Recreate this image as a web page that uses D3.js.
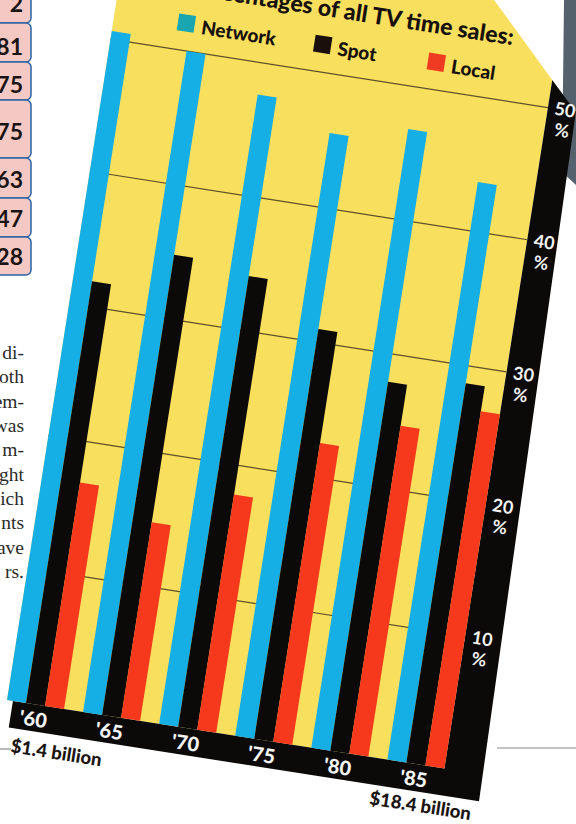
<!DOCTYPE html>
<html>
<head>
<meta charset="utf-8">
<script src="https://cdn.jsdelivr.net/npm/d3@7"></script>
<style>
  html, body { margin: 0; padding: 0; background: #fff; }
  svg { display: block; }
</style>
</head>
<body>
<div id="chart"></div>
<script>
// data (shares of all TV time sales, %)
const years = ["'60", "'65", "'70", "'75", "'80", "'85"];
const series = ["Network", "Spot", "Local"];
const network = [50.6, 50.0, 47.6, 45.6, 46.8, 43.7];
const spot = [31.9, 34.8, 34.1, 31.0, 27.9, 28.7];
const local = [16.9, 14.8, 17.8, 22.6, 24.8, 26.8];
const yTicks = [10, 20, 30, 40, 50];
const startLabel = "$1.4 billion";
const endLabel = "$18.4 billion";
const title = "Percentages of all TV time sales:";

// bits of the page around the chart
const tableValues = ["2", "81", "75", "75", "63", "47", "28"];
const textFragments = ["di-", "oth", "em-", "was", "m-", "ght", "ich", "nts", "ave", "rs."];

const width = 576, height = 824;
const colors = { Network: "#15aee5", Spot: "#0c0a09", Local: "#f6381d" };
const legendColors = { Network: "#19a6b0", Spot: "#1a0f0b", Local: "#ee3b22" };
const font = "Lato, 'DejaVu Sans', sans-serif";

const svg = d3.select("#chart").append("svg")
  .attr("width", width)
  .attr("height", height);

// table cells on the left edge
const rowEdges = [-10, 23, 62, 100, 158, 198, 237, 275];
const baselines = [12, 55, 93, 140, 188, 227, 265];
svg.append("g").selectAll("rect")
  .data(tableValues)
  .join("rect")
  .attr("x", -12)
  .attr("y", (d, i) => rowEdges[i])
  .attr("width", 43)
  .attr("height", (d, i) => rowEdges[i + 1] - rowEdges[i])
  .attr("rx", 5)
  .attr("fill", "#f4c9c3")
  .attr("stroke", "#2d63a3")
  .attr("stroke-width", 1.5);
svg.append("g").selectAll("text")
  .data(tableValues)
  .join("text")
  .attr("x", 23)
  .attr("y", (d, i) => baselines[i])
  .attr("text-anchor", "end")
  .style("font-family", font)
  .style("font-weight", 700)
  .style("font-size", "23px")
  .attr("fill", "#1a1414")
  .text(d => d);

// cut-off paragraph
svg.append("g").selectAll("text")
  .data(textFragments)
  .join("text")
  .attr("x", 24)
  .attr("y", (d, i) => 359 + i * 24.35)
  .attr("text-anchor", "end")
  .style("font-family", "'Liberation Serif', 'DejaVu Serif', serif")
  .style("font-size", "19.5px")
  .attr("fill", "#2a2a2a")
  .text(d => d);

// page rules
svg.append("line").attr("x1", 0).attr("x2", 11).attr("y1", 749).attr("y2", 749)
  .attr("stroke", "#8a8a8a").attr("stroke-width", 1.2);
svg.append("line").attr("x1", 497).attr("x2", 576).attr("y1", 748).attr("y2", 748)
  .attr("stroke", "#8a8a8a").attr("stroke-width", 1.2);

// dark strip at top right
svg.append("polygon")
  .attr("points", "564,0 576,0 576,185 562,172")
  .attr("fill", "#56616e");

// the chart itself is printed tilted
const g = svg.append("g")
  .attr("transform", "translate(7,700) rotate(8.9)");

const x0 = d3.scaleBand().domain(years).range([0, 462]);
const x1 = d3.scaleBand().domain(series).range([0, x0.bandwidth() * 0.75]);
const y = d3.scaleLinear().domain([0, 50]).range([0, -669]);

const xRight = x0(years[years.length - 1]) + x1.range()[1];

// yellow plane
g.append("polygon")
  .attr("points", [[0, 0], [xRight, 0], [xRight, -697], [300, -840], [0, -840]].join(" "))
  .attr("fill", "#f9df5e");

// black frame right and bottom
g.append("polygon")
  .attr("points", [[6, 0], [xRight, 0], [xRight, -697], [471, -669], [482, 27], [6, 27]].join(" "))
  .attr("fill", "#0b0a09");

// gridlines
g.append("g").selectAll("line")
  .data(yTicks)
  .join("line")
  .attr("x1", 0)
  .attr("x2", xRight)
  .attr("y1", d => y(d))
  .attr("y2", d => y(d))
  .attr("stroke", "#5e5026")
  .attr("stroke-width", 1.2);

// bars
const rows = years.map((yr, i) => ({ yr, vals: { Network: network[i], Spot: spot[i], Local: local[i] } }));
g.append("g").selectAll("g")
  .data(rows)
  .join("g")
  .attr("transform", d => `translate(${x0(d.yr)},0)`)
  .selectAll("rect")
  .data(d => series.map(s => ({ s, v: d.vals[s] })))
  .join("rect")
  .attr("x", d => x1(d.s))
  .attr("y", d => y(d.v))
  .attr("width", x1.bandwidth())
  .attr("height", d => -y(d.v))
  .attr("fill", d => colors[d.s]);

// percent labels in the black band
const tickG = g.append("g").selectAll("g")
  .data(yTicks)
  .join("g")
  .attr("transform", d => `translate(460,${y(d)})`);
tickG.append("text")
  .attr("y", 6)
  .attr("text-anchor", "middle")
  .style("font-family", font)
  .style("font-weight", 700)
  .style("font-size", "18px")
  .attr("fill", "#f2f2f2")
  .text(d => d);
tickG.append("text")
  .attr("y", 27)
  .attr("text-anchor", "middle")
  .style("font-family", font)
  .style("font-weight", 700)
  .style("font-size", "18px")
  .attr("fill", "#f2f2f2")
  .text("%");

// year labels
g.append("g").selectAll("text")
  .data(years)
  .join("text")
  .attr("x", d => x0(d) + x1.range()[1] / 2)
  .attr("y", 22)
  .attr("text-anchor", "middle")
  .style("font-family", font)
  .style("font-weight", 900)
  .style("font-size", "20px")
  .attr("fill", "#f4f4f4")
  .text(d => d);

// totals under the axis
g.append("text")
  .attr("x", 11).attr("y", 51)
  .style("font-family", font).style("font-weight", 900).style("font-size", "18.5px")
  .attr("fill", "#1b1512")
  .text(startLabel);
g.append("text")
  .attr("x", 476).attr("y", 47)
  .attr("text-anchor", "end")
  .style("font-family", font).style("font-weight", 900).style("font-size", "18.5px")
  .attr("fill", "#1b1512")
  .text(endLabel);

// title
g.append("text")
  .attr("x", 398).attr("y", -725)
  .attr("text-anchor", "end")
  .style("font-family", font).style("font-weight", 900).style("font-size", "23px")
  .attr("fill", "#16110d")
  .text(title);

// legend
const legendX = [64, 202, 317];
const legend = g.append("g").selectAll("g")
  .data(series)
  .join("g")
  .attr("transform", (d, i) => `translate(${legendX[i]},-705)`);
legend.append("rect")
  .attr("width", 17).attr("height", 17)
  .attr("fill", d => legendColors[d]);
legend.append("text")
  .attr("x", 24).attr("y", 17)
  .style("font-family", font).style("font-weight", 900).style("font-size", "19px")
  .attr("fill", "#16110d")
  .text(d => d);
</script>
</body>
</html>
